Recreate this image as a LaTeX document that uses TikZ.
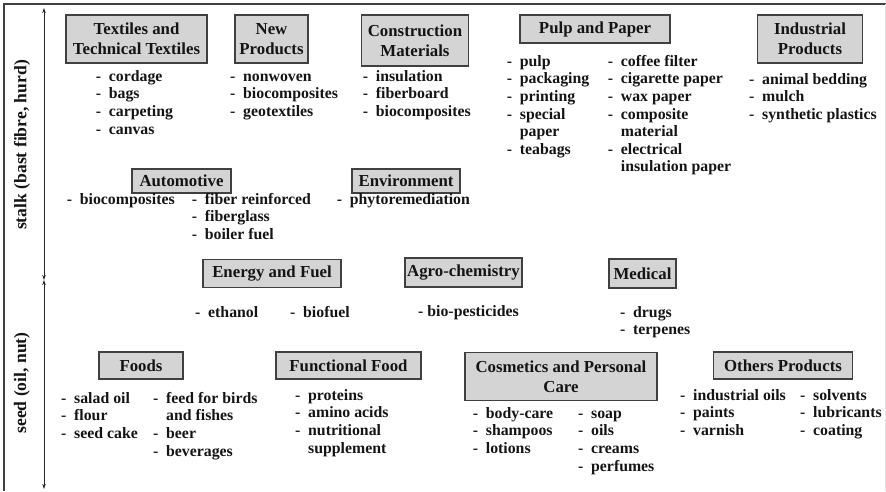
\documentclass[tikz,border=0pt]{standalone}
\usepackage{fontspec}
\setmainfont{Liberation Serif}
\usetikzlibrary{arrows.meta}

\newcommand{\titlefont}{\fontsize{16.8}{20}\selectfont\bfseries}
\newcommand{\itemfont}{\fontsize{15.8}{17.6}\selectfont\bfseries}
\newcommand{\itm}[1]{\makebox[13pt][l]{-}#1}
\newcommand{\cnt}[1]{\hspace*{13pt}#1}

\tikzset{
	cat/.style={draw=black!75, fill=black!17, line width=1.1pt, inner sep=0pt,
		align=center, font=\titlefont, text=black!92},
	lst/.style={anchor=north west, inner sep=0pt, align=left, font=\itemfont, text=black!92},
	side/.style={rotate=90, inner sep=0pt, font=\fontsize{17.6}{20}\selectfont\bfseries, text=black!92}
}

\begin{document}
\begin{tikzpicture}[x=1pt, y=-1pt]
	\useasboundingbox (0,0) rectangle (886,491);

	% frame
	\draw [black!75, line width=1.3pt] (886,4) -- (4,4) -- (4,491);
	\draw [black!10] (885,4) -- (885,491);

	% axis
	\coordinate (Top) at (44,8);
	\coordinate (Mid) at (44,280);
	\coordinate (Bot) at (44,489);
	\draw [black!85, line width=0.9pt, {Stealth[length=5pt,width=3.5pt]}-{Stealth[length=5pt,width=3.5pt]}] (Top) -- (Mid);
	\draw [black!85, line width=0.9pt, {Stealth[length=5pt,width=3.5pt]}-{Stealth[length=5pt,width=3.5pt]}] (Mid) -- (Bot);
	\node [side] (Stalk) at (22,145) {stalk (bast fibre, hurd)};
	\node [side] (Seed) at (22,383) {seed (oil, nut)};

	% stalk: categories
	\node [cat, minimum width=141pt, minimum height=48pt] (Tex) at (136.5,39) {Textiles and\\Technical Textiles};
	\node [cat, minimum width=73pt, minimum height=48pt] (New) at (271.5,39) {New\\Products};
	\node [cat, minimum width=107pt, minimum height=51pt] (Con) at (415,40.5) {Construction\\Materials};
	\node [cat, minimum width=150pt, minimum height=28pt] (Pulp) at (595,29) {Pulp and Paper};
	\node [cat, minimum width=105pt, minimum height=48pt] (Ind) at (810,39) {Industrial\\Products};
	\node [cat, minimum width=99pt, minimum height=24pt] (Auto) at (181.5,181) {Automotive};
	\node [cat, minimum width=108pt, minimum height=24pt] (Env) at (406,181) {Environment};

	% stalk: items
	\node [lst] (TexL) at (95.7,68.75) {\strut\itm{cordage}\\\itm{bags}\\\itm{carpeting}\\\itm{canvas}};
	\node [lst] (NewL) at (230,68.75) {\strut\itm{nonwoven}\\\itm{biocomposites}\\\itm{geotextiles}};
	\node [lst] (ConL) at (362.7,68.75) {\strut\itm{insulation}\\\itm{fiberboard}\\\itm{biocomposites}};
	\node [lst] (PulpA) at (506.7,53.75) {\strut\itm{pulp}\\\itm{packaging}\\\itm{printing}\\\itm{special}\\\cnt{paper}\\\itm{teabags}};
	\node [lst] (PulpB) at (607.7,53.75) {\strut\itm{coffee filter}\\\itm{cigarette paper}\\\itm{wax paper}\\\itm{composite}\\\cnt{material}\\\itm{electrical}\\\cnt{insulation paper}};
	\node [lst] (IndL) at (749,71.75) {\strut\itm{animal bedding}\\\itm{mulch}\\\itm{synthetic plastics}};
	\node [lst] (AutoA) at (66.7,191.75) {\strut\itm{biocomposites}};
	\node [lst] (AutoB) at (191.7,191.75) {\strut\itm{fiber reinforced}\\\itm{fiberglass}\\\itm{boiler fuel}};
	\node [lst] (EnvL) at (336.7,191.75) {\strut\itm{phytoremediation}};

	% seed: categories
	\node [cat, minimum width=138pt, minimum height=28pt] (Ener) at (272,273.5) {Energy and Fuel};
	\node [cat, minimum width=117pt, minimum height=29pt] (Agro) at (463.5,272.5) {Agro-chemistry};
	\node [cat, minimum width=67pt, minimum height=29pt] (Med) at (642.5,273.5) {Medical};
	\node [cat, minimum width=84pt, minimum height=27pt] (Food) at (141,365.5) {Foods};
	\node [cat, minimum width=145pt, minimum height=27pt] (Func) at (348.5,365.5) {Functional Food};
	\node [cat, minimum width=192pt, minimum height=48pt] (Cos) at (561,376.7) {Cosmetics and Personal\\Care};
	\node [cat, minimum width=139pt, minimum height=27pt] (Oth) at (783,365.5) {Others Products};

	% seed: items
	\node [lst] (EnerA) at (195,304.75) {\strut\itm{ethanol}};
	\node [lst] (EnerB) at (290,304.75) {\strut\itm{biofuel}};
	\node [lst] (AgroL) at (418,303.75) {\strut- bio-pesticides};
	\node [lst] (MedL) at (620,304.75) {\strut\itm{drugs}\\\itm{terpenes}};
	\node [lst] (FoodA) at (61,390.75) {\strut\itm{salad oil}\\\itm{flour}\\\itm{seed cake}};
	\node [lst] (FoodB) at (153,390.75) {\strut\itm{feed for birds}\\\cnt{and fishes}\\\itm{beer}\\\itm{beverages}};
	\node [lst] (FuncL) at (295,387.75) {\strut\itm{proteins}\\\itm{amino acids}\\\itm{nutritional}\\\cnt{supplement}};
	\node [lst] (CosA) at (472.7,405.75) {\strut\itm{body-care}\\\itm{shampoos}\\\itm{lotions}};
	\node [lst] (CosB) at (578,405.75) {\strut\itm{soap}\\\itm{oils}\\\itm{creams}\\\itm{perfumes}};
	\node [lst] (OthA) at (680,387.75) {\strut\itm{industrial oils}\\\itm{paints}\\\itm{varnish}};
	\node [lst] (OthB) at (800,387.75) {\strut\itm{solvents}\\\itm{lubricants}\\\itm{coating}};

\end{tikzpicture}
\end{document}
